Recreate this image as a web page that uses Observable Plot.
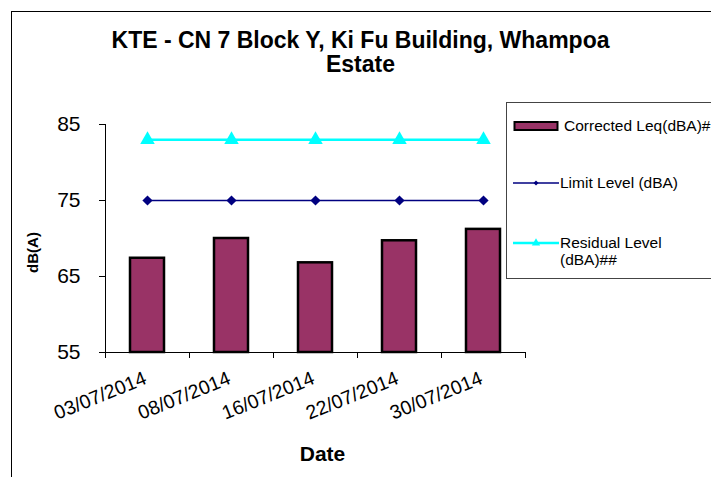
<!DOCTYPE html>
<html>
<head>
<meta charset="utf-8">
<script src="https://cdn.jsdelivr.net/npm/d3@7"></script>
<script src="https://cdn.jsdelivr.net/npm/@observablehq/plot@0.6"></script>
<style>
html,body{margin:0;padding:0;background:#fff;}
#wrap{position:relative;width:711px;height:477px;overflow:hidden;font-family:"Liberation Sans",Arial,sans-serif;}
#border{position:absolute;left:11px;top:11px;width:760px;height:520px;border-left:1.5px solid #000;border-top:1.5px solid #000;}
#chart{position:absolute;left:0;top:0;}
#legend{position:absolute;left:506px;top:102px;width:260px;height:175px;border:1px solid #444;background:#fff;}
#legend .sw{position:absolute;left:6px;}
#legend .lab{position:absolute;font-size:15.5px;line-height:17px;color:#000;white-space:nowrap;}
</style>
</head>
<body>
<div id="wrap">
  <div id="border"></div>
  <div id="chart"></div>
  <div id="legend"></div>
</div>
<script>
const dates = ["03/07/2014", "08/07/2014", "16/07/2014", "22/07/2014", "30/07/2014"];
const correctedLeq = [67.4, 70.0, 66.8, 69.7, 71.2];
const limitLevel = [75, 75, 75, 75, 75];
const residualLevel = [83, 83, 83, 83, 83];
const yTicks = [55, 65, 75, 85];
const seriesNames = ["Corrected Leq(dBA)#", "Limit Level (dBA)", "Residual Level\n(dBA)##"];
const titleText = "KTE - CN 7 Block Y, Ki Fu Building, Whampoa\nEstate";
const xTitle = "Date";
const yTitle = "dB(A)";

const data = dates.map((d, i) => ({date: d, leq: correctedLeq[i], limit: limitLevel[i], residual: residualLevel[i]}));

const W = 711, H = 477, mL = 105, mR = 186, mT = 124, mB = 125;
const step = (W - mL - mR) / dates.length;
const font = "Liberation Sans, Arial, sans-serif";

const plot = Plot.plot({
  width: W, height: H,
  marginLeft: mL, marginRight: mR, marginTop: mT, marginBottom: mB,
  style: {fontFamily: font, background: "transparent", color: "#000", overflow: "visible"},
  x: {type: "band", domain: dates, paddingInner: 0.6, paddingOuter: 0.3},
  y: {domain: [55, 85]},
  marks: [
    Plot.barY(data, {x: "date", y1: 55, y2: "leq", fill: "#993366", stroke: "#000", strokeWidth: 2.5}),
    Plot.axisY({ticks: yTicks, tickSize: 6, tickPadding: 19, fontSize: 21, label: null}),
    Plot.ruleY([55], {stroke: "#000", strokeWidth: 1}),
    Plot.frame({anchor: "left", stroke: "#000"}),
    Plot.ruleX(dates, {x: d => d, y1: 55, y2: 55, insetBottom: -6, dx: -step / 2, stroke: "#000"}),
    Plot.ruleX([dates[dates.length - 1]], {x: d => d, y1: 55, y2: 55, insetBottom: -6, dx: step / 2, stroke: "#000"}),
    Plot.axisX({tickSize: 0, tickPadding: 25, tickRotate: -22, fontSize: 19.5, label: null, dx: -2, textAnchor: "end", lineAnchor: "middle"}),
    Plot.lineY(data, {x: "date", y: "limit", stroke: "#000080", strokeWidth: 1.5}),
    Plot.dot(data, {x: "date", y: "limit", symbol: "diamond2", r: 4.6, fill: "#000080"}),
    Plot.lineY(data, {x: "date", y: "residual", stroke: "#00FFFF", strokeWidth: 2.5}),
    Plot.dot(data, {x: "date", y: "residual", symbol: "triangle", r: 5.4, fill: "#00FFFF"}),
    Plot.text([titleText], {text: d => d, frameAnchor: "top", textAnchor: "middle", lineAnchor: "top", dx: 45, dy: -94, fontSize: 23, fontWeight: "bold", lineHeight: 1.06}),
    Plot.text([yTitle], {text: d => d, frameAnchor: "left", textAnchor: "middle", lineAnchor: "middle", rotate: -90, dx: -72, dy: 14, fontSize: 15, fontWeight: "bold"}),
    Plot.text([xTitle], {text: d => d, frameAnchor: "bottom", textAnchor: "middle", lineAnchor: "middle", dx: 7, dy: 102, fontSize: 21, fontWeight: "bold"})
  ]
});
document.getElementById("chart").appendChild(plot);

// Legend (HTML)
const legend = d3.select("#legend");
const items = [
  {name: seriesNames[0], type: "bar", cy: 23, tx: 57},
  {name: seriesNames[1], type: "limit", cy: 80, tx: 53},
  {name: seriesNames[2], type: "residual", cy: 140, tx: 53}
];
items.forEach(it => {
  const svg = legend.append("svg").attr("class", "sw").attr("width", 48).attr("height", 16)
    .style("top", (it.cy - 8) + "px");
  if (it.type === "bar") {
    svg.append("rect").attr("x", 1.5).attr("y", 4).attr("width", 43).attr("height", 8)
      .attr("fill", "#993366").attr("stroke", "#000").attr("stroke-width", 2);
  } else if (it.type === "limit") {
    svg.append("line").attr("x1", 0).attr("x2", 46).attr("y1", 8).attr("y2", 8).attr("stroke", "#000080").attr("stroke-width", 1.5);
    svg.append("path").attr("d", d3.symbol(d3.symbolDiamond2, 16)()).attr("transform", "translate(23,8)").attr("fill", "#000080");
  } else {
    svg.append("line").attr("x1", 0).attr("x2", 46).attr("y1", 8).attr("y2", 8).attr("stroke", "#00FFFF").attr("stroke-width", 2.5);
    svg.append("path").attr("d", d3.symbol(d3.symbolTriangle, 30)()).attr("transform", "translate(23,8)").attr("fill", "#00FFFF");
  }
  const lines = it.name.split("\n");
  legend.append("div").attr("class", "lab")
    .style("left", it.tx + "px")
    .style("top", (it.cy - 9) + "px")
    .html(lines.join("<br>"));
});
</script>
</body>
</html>
